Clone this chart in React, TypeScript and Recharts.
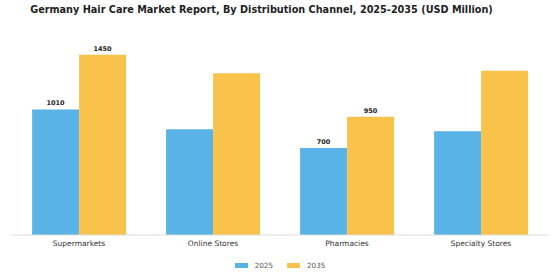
import React from 'react'
import { BarChart, Bar, XAxis, YAxis, LabelList } from 'recharts'

const channels = ['Supermarkets', 'Online Stores', 'Pharmacies', 'Specialty Stores']
const values2025 = [1010, 850, 700, 835]
const values2035 = [1450, 1300, 950, 1320]
const labeled = ['Supermarkets', 'Pharmacies']

const data = channels.map((c, i) => ({
  channel: c,
  y2025: values2025[i],
  y2035: values2035[i],
}))

const BLUE = '#5AB3E6'
const YELLOW = '#F8C24B'
const FONT = '"DejaVu Sans", Verdana, sans-serif'

const ValueLabel = (props: any) => {
  const { x, y, width, value, index } = props
  if (!labeled.includes(channels[index])) return null
  return (
    <text
      x={x + width / 2} y={y - 4}
      textAnchor="middle"
      fontSize={6.5} fontWeight="bold" fill="#222" fontFamily={FONT}
    >
      {value}
    </text>
  )
}

export default function App() {
  return (
    <div style={{ position: 'absolute', left: 0, top: 0, width: 560, height: 280, background: '#fff', fontFamily: FONT }}>
      <div style={{
        position: 'absolute', top: 4, left: 0, width: 523, textAlign: 'center',
        fontSize: 9.7, fontWeight: 'bold', color: '#222', whiteSpace: 'nowrap'
      }}>
        Germany Hair Care Market Report, By Distribution Channel, 2025-2035 (USD Million)
      </div>
      <BarChart
        width={560} height={255} data={data}
        margin={{ top: 36, right: 12, left: 12, bottom: 0 }}
        barCategoryGap="15%" barGap={0}
      >
        <XAxis
          dataKey="channel" height={20}
          tick={{ fontSize: 7.5, fill: '#333', fontFamily: FONT, dy: -2 }}
          tickLine={false}
          axisLine={{ stroke: '#ddd' }}
        />
        <YAxis hide domain={[0, 1600]} />
        <Bar dataKey="y2025" fill={BLUE} isAnimationActive={false}>
          <LabelList dataKey="y2025" content={<ValueLabel />} />
        </Bar>
        <Bar dataKey="y2035" fill={YELLOW} isAnimationActive={false}>
          <LabelList dataKey="y2035" content={<ValueLabel />} />
        </Bar>
      </BarChart>
      <div style={{
        position: 'absolute', top: 261, left: 0, width: 560, display: 'flex',
        justifyContent: 'center', gap: 14, fontSize: 7.2, color: '#555', alignItems: 'center'
      }}>
        <span style={{ display: 'flex', alignItems: 'center', gap: 7 }}>
          <span style={{ width: 13, height: 5, background: BLUE, display: 'inline-block' }} />2025
        </span>
        <span style={{ display: 'flex', alignItems: 'center', gap: 7 }}>
          <span style={{ width: 13, height: 5, background: YELLOW, display: 'inline-block' }} />2035
        </span>
      </div>
    </div>
  )
}
